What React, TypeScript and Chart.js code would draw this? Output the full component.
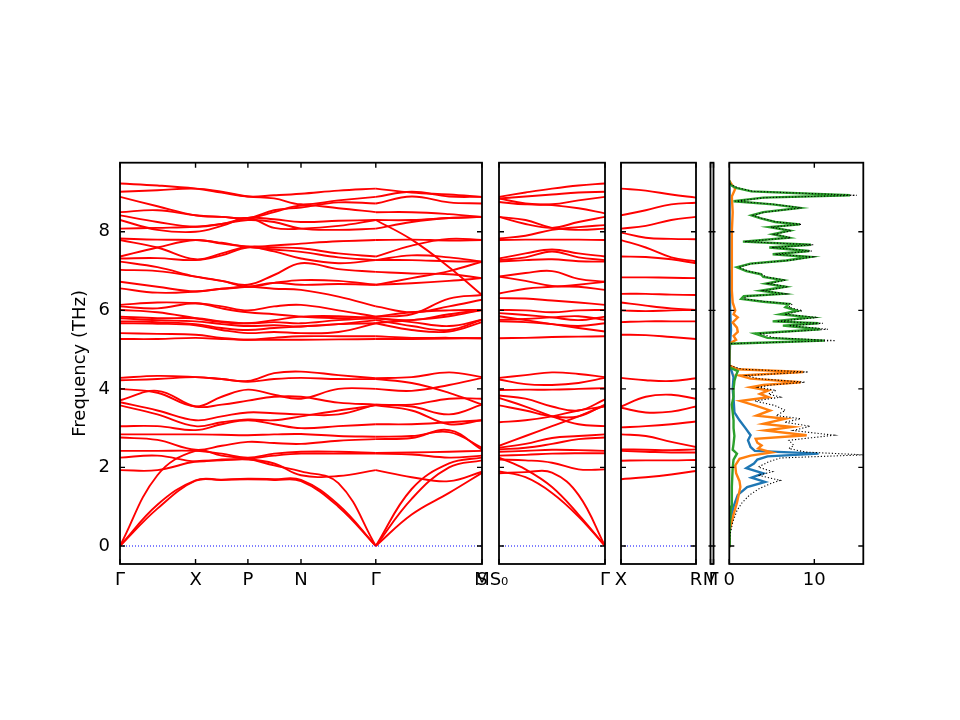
import { useEffect, useRef } from "react";
import Chart from "chart.js/auto";

Chart.defaults.font.family = "'DejaVu Sans', sans-serif";
Chart.defaults.font.size = 18;
Chart.defaults.color = "#000";

const Y_MIN = -0.46;
const Y_MAX = 9.76;
const AREA_TOP = 162.7;
const AREA_BOTTOM = 564;
const X_AXIS_H = 34;
const Y_AXIS_W = 54.8;
const TICK = 5;

const freqTicks = [0, 2, 4, 6, 8];

// panel 1: Γ-X-P-N-Γ-M, the line restarts at the second Γ
const path1Ticks = [0, 1.01, 1.71, 2.42, 3.42, 4.84, 4.84];
const path1Labels = ["Γ", "X", "P", "N", "Γ", "M", "S"];
const path1Knots = [0, 0.5, 1.01, 1.36, 1.71, 2.06, 2.42, 2.92, 3.42, 3.9, 4.4, 4.84];
const path1Breaks = [8];
const path1Bands = [
  [0, 0.95, 1.66, 1.68, 1.7, 1.68, 1.65, 1.0, 0, 0.8, 1.35, 1.86],
  [0, 1.05, 1.67, 1.69, 1.71, 1.7, 1.68, 1.05, 0, 1.2, 2.0, 2.18],
  [0, 1.8, 2.42, 2.3, 2.22, 2.05, 1.9, 1.6, 0, 1.45, 2.1, 2.25],
  [1.93, 1.93, 2.15, 2.18, 2.2, 2.1, 1.8, 1.78, 1.93, 1.75, 1.65, 1.89],
  [2.25, 2.3, 2.15, 2.2, 2.22, 2.3, 2.35, 2.35, 2.35, 2.33, 2.25, 2.3],
  [2.42, 2.42, 2.42, 2.35, 2.25, 2.35, 2.4, 2.4, 2.37, 2.38, 2.4, 2.42],
  [2.76, 2.7, 2.45, 2.55, 2.65, 2.62, 2.6, 2.68, 2.72, 2.75, 2.95, 2.45],
  [2.84, 2.84, 2.84, 2.83, 2.82, 2.84, 2.85, 2.8, 2.78, 2.8, 2.9, 2.5],
  [3.05, 3.05, 2.95, 3.1, 3.2, 3.1, 3.0, 3.05, 3.1, 3.1, 3.15, 3.2],
  [3.58, 3.35, 3.05, 3.15, 3.22, 3.2, 3.3, 3.45, 3.58, 3.45, 3.1, 3.2],
  [3.66, 3.45, 3.2, 3.3, 3.4, 3.38, 3.35, 3.35, 3.6, 3.55, 3.35, 3.6],
  [3.71, 3.95, 3.55, 3.6, 3.7, 3.8, 3.8, 3.65, 3.6, 3.6, 3.75, 3.75],
  [4.0, 3.9, 3.55, 3.8, 3.98, 3.85, 3.75, 4.0, 4.0, 3.95, 4.1, 4.28],
  [4.22, 4.25, 4.3, 4.25, 4.18, 4.25, 4.28, 4.25, 4.25, 4.15, 3.9, 3.6],
  [4.28, 4.33, 4.3, 4.25, 4.2, 4.4, 4.44, 4.35, 4.27, 4.3, 4.42, 4.3],
  [9.23, 9.18, 9.1, 9.0, 8.9, 8.93, 8.97, 9.05, 9.1, 9.0, 8.95, 8.89],
  [9.02, 9.06, 9.1, 9.02, 8.9, 8.85, 8.7, 8.8, 8.89, 9.02, 8.9, 8.89],
  [8.89, 8.65, 8.42, 8.38, 8.35, 8.5, 8.67, 8.6, 8.5, 8.5, 8.45, 8.38],
  [8.5, 8.55, 8.42, 8.38, 8.35, 8.55, 8.62, 8.75, 8.72, 8.9, 8.75, 8.72],
  [8.42, 8.25, 8.13, 8.2, 8.35, 8.32, 8.25, 8.28, 8.3, 7.8, 7.1, 6.39],
  [8.3, 8.05, 8.0, 8.15, 8.35, 8.1, 8.08, 8.15, 8.3, 8.3, 8.35, 8.38],
  [8.08, 8.1, 8.13, 8.2, 8.3, 8.25, 8.08, 8.05, 8.08, 8.25, 8.35, 8.38],
  [7.83, 7.8, 7.79, 7.72, 7.62, 7.65, 7.7, 7.76, 7.79, 7.8, 7.78, 7.79],
  [7.79, 7.6, 7.3, 7.45, 7.62, 7.6, 7.58, 7.45, 7.37, 7.65, 7.82, 7.79],
  [7.37, 7.6, 7.79, 7.7, 7.62, 7.55, 7.49, 7.35, 7.28, 7.4, 7.35, 7.24],
  [7.32, 7.33, 7.28, 7.4, 7.6, 7.5, 7.32, 7.2, 7.28, 7.28, 7.25, 7.24],
  [7.24, 7.1, 6.86, 6.75, 6.65, 6.9, 7.2, 7.05, 6.98, 6.94, 6.92, 6.82],
  [7.03, 7.0, 6.86, 6.75, 6.6, 6.7, 6.77, 6.75, 6.65, 6.82, 7.0, 7.24],
  [6.73, 6.6, 6.48, 6.55, 6.6, 6.7, 6.65, 6.67, 6.65, 6.69, 6.75, 6.82],
  [6.56, 6.45, 6.48, 6.55, 6.6, 6.55, 6.52, 6.35, 6.1, 5.95, 6.1, 6.27],
  [6.14, 6.2, 6.18, 6.1, 6.0, 6.1, 6.14, 6.0, 5.84, 5.9, 6.3, 6.39],
  [6.1, 6.05, 6.18, 6.05, 5.95, 5.9, 5.84, 5.8, 5.84, 5.95, 6.0, 6.01],
  [6.01, 5.95, 5.8, 5.7, 5.67, 5.75, 5.84, 5.85, 5.8, 5.75, 5.9, 6.01],
  [5.84, 5.8, 5.8, 5.72, 5.67, 5.7, 5.67, 5.75, 5.8, 5.7, 5.6, 5.76],
  [5.8, 5.75, 5.72, 5.65, 5.6, 5.62, 5.59, 5.65, 5.75, 5.6, 5.5, 5.76],
  [5.72, 5.7, 5.65, 5.55, 5.5, 5.55, 5.59, 5.65, 5.67, 5.5, 5.46, 5.7],
  [5.67, 5.66, 5.62, 5.5, 5.42, 5.45, 5.42, 5.45, 5.67, 5.75, 5.85, 6.01],
  [5.42, 5.4, 5.38, 5.3, 5.25, 5.3, 5.34, 5.34, 5.34, 5.3, 5.3, 5.29],
  [5.27, 5.27, 5.3, 5.27, 5.25, 5.25, 5.25, 5.26, 5.27, 5.27, 5.28, 5.29],
];

// panel 2: S0-Γ
const path2Ticks = [0, 1.4];
const path2Labels = ["S₀", "Γ"];
const path2Knots = [0, 0.35, 0.7, 1.05, 1.4];
const path2Bands = [
  [1.9, 1.75, 1.35, 0.75, 0],
  [1.85, 1.88, 1.87, 1.3, 0],
  [2.25, 1.95, 1.5, 0.8, 0],
  [2.2, 2.18, 2.12, 1.95, 1.95],
  [2.3, 2.32, 2.35, 2.36, 2.36],
  [2.4, 2.42, 2.45, 2.44, 2.42],
  [2.46, 2.5, 2.6, 2.72, 2.76],
  [2.5, 2.6, 2.75, 2.8, 2.84],
  [2.55, 2.8, 3.05, 3.3, 3.58],
  [3.15, 3.2, 3.3, 3.45, 3.55],
  [3.58, 3.45, 3.3, 3.3, 3.6],
  [3.77, 3.55, 3.3, 3.1, 3.05],
  [3.83, 3.75, 3.55, 3.45, 3.73],
  [3.97, 3.98, 3.98, 4.0, 4.02],
  [4.24, 4.12, 4.1, 4.15, 4.28],
  [4.28, 4.35, 4.42, 4.38, 4.3],
  [5.29, 5.3, 5.32, 5.33, 5.34],
  [5.85, 5.75, 5.65, 5.55, 5.46],
  [5.72, 5.7, 5.65, 5.6, 5.67],
  [5.76, 5.78, 5.82, 5.85, 5.76],
  [5.93, 5.88, 5.82, 5.75, 5.84],
  [6.01, 6.0, 5.95, 6.0, 6.01],
  [6.31, 6.3, 6.25, 6.2, 6.14],
  [6.43, 6.55, 6.6, 6.65, 6.73],
  [6.86, 6.75, 6.62, 6.6, 6.52],
  [6.86, 6.95, 7.0, 6.8, 6.73],
  [7.24, 7.28, 7.3, 7.25, 7.24],
  [7.28, 7.35, 7.5, 7.35, 7.28],
  [7.32, 7.45, 7.55, 7.45, 7.37],
  [7.79, 7.8, 7.8, 7.8, 7.79],
  [7.83, 7.9, 8.05, 8.12, 8.17],
  [8.38, 8.2, 8.1, 8.25, 8.38],
  [8.38, 8.3, 8.1, 8.05, 8.08],
  [8.85, 8.72, 8.68, 8.6, 8.47],
  [8.76, 8.7, 8.7, 8.8, 8.89],
  [8.85, 8.9, 8.95, 9.0, 9.02],
  [8.89, 9.0, 9.1, 9.18, 9.23],
];

// panel 3: X-R
const path3Ticks = [0, 1.0];
const path3Labels = ["X", "R"];
const path3Knots = [0, 0.33, 0.67, 1.0];
const path3Bands = [
  [1.7, 1.75, 1.82, 1.91],
  [2.17, 2.18, 2.18, 2.19],
  [2.42, 2.4, 2.38, 2.38],
  [2.46, 2.45, 2.44, 2.46],
  [2.84, 2.8, 2.65, 2.52],
  [3.02, 3.05, 3.1, 3.17],
  [3.52, 3.4, 3.42, 3.55],
  [3.55, 3.8, 3.85, 3.75],
  [4.28, 4.22, 4.2, 4.27],
  [5.38, 5.37, 5.32, 5.27],
  [5.7, 5.72, 5.72, 5.72],
  [6.0, 5.98, 6.0, 6.01],
  [6.2, 6.12, 6.05, 6.01],
  [6.42, 6.42, 6.4, 6.39],
  [6.84, 6.84, 6.83, 6.82],
  [7.37, 7.36, 7.3, 7.2],
  [7.79, 7.6, 7.35, 7.25],
  [7.98, 7.85, 7.82, 7.81],
  [8.08, 8.15, 8.3, 8.38],
  [8.42, 8.55, 8.7, 8.74],
  [9.1, 9.05, 8.95, 8.87],
];

// panel 4: the short M-Γ piece
const path4Ticks = [0, 1];
const path4Labels = ["M", "Γ"];

// DOS panel
const dosTicks = [0, 10];
const dosMax = 15.76;

const totalFreq = [
  0, 0.3, 0.6, 0.9, 1.1, 1.3, 1.47, 1.6, 1.67, 1.8, 1.89, 2.01, 2.14, 2.24, 2.32, 2.39, 2.48, 2.56,
  2.69, 2.82, 2.94, 3.05, 3.15, 3.24, 3.32, 3.45, 3.58, 3.69, 3.79, 3.87, 3.96, 4.04, 4.1, 4.17,
  4.26, 4.34, 4.43, 4.5, 4.6, 5.15, 5.23, 5.3, 5.41, 5.52, 5.61, 5.67, 5.72, 5.82, 5.9, 5.99, 6.08,
  6.16, 6.22, 6.29, 6.36, 6.42, 6.5, 6.6, 6.68, 6.77, 6.85, 6.92, 7.0, 7.1, 7.19, 7.27, 7.36, 7.43,
  7.51, 7.6, 7.67, 7.75, 7.85, 7.94, 8.03, 8.12, 8.19, 8.25, 8.34, 8.42, 8.5, 8.61, 8.7, 8.78, 8.87,
  8.93, 9.03, 9.12, 9.2, 9.3,
];
const totalDos = [
  0, 0.1, 0.4, 0.9, 1.5, 2.4, 3.6, 5.0, 6.0, 3.4, 5.1, 3.4, 4.6, 6.0, 15.8, 9.0, 7.0, 7.6, 7.0,
  12.3, 7.5, 9.5, 6.5, 8.4, 5.5, 6.6, 5.3, 3.0, 6.0, 4.6, 5.5, 3.4, 5.0, 8.9, 3.4, 2.0, 9.3, 1.5, 0,
  0, 12.5, 5.4, 3.5, 11.6, 7.0, 11.0, 5.6, 10.4, 6.5, 8.6, 7.0, 7.4, 4.4, 1.7, 2.0, 6.6, 4.0, 6.9,
  4.6, 6.6, 4.3, 3.9, 2.2, 1.1, 2.7, 7.0, 9.8, 5.4, 9.7, 5.0, 9.9, 1.8, 7.2, 5.3, 7.3, 4.9, 8.5,
  5.6, 3.9, 2.8, 4.2, 8.5, 5.3, 0.7, 4.2, 15.0, 2.8, 1.0, 0.2, 0,
];

const greenFreq = [
  0, 0.5, 1.0, 1.5, 2.0, 2.2, 2.35, 2.45, 2.6, 2.8, 3.0, 3.2, 3.4, 3.6, 3.8, 4.0, 4.2, 4.35, 4.45,
  4.55, 5.15, 5.23, 5.3, 5.41, 5.52, 5.61, 5.67, 5.72, 5.82, 5.9, 5.99, 6.08, 6.16, 6.22, 6.29,
  6.36, 6.42, 6.5, 6.6, 6.68, 6.77, 6.85, 6.92, 7.0, 7.1, 7.19, 7.27, 7.36, 7.43, 7.51, 7.6, 7.67,
  7.75, 7.85, 7.94, 8.03, 8.12, 8.19, 8.25, 8.34, 8.42, 8.5, 8.61, 8.7, 8.78, 8.87, 8.93, 9.03,
  9.12, 9.2, 9.3,
];
const greenDos = [
  0, 0.05, 0.2, 0.3, 0.4, 0.5, 0.9, 0.4, 0.5, 0.6, 0.5, 0.5, 0.4, 0.3, 0.5, 0.5, 0.6, 0.8, 1.0, 0,
  0, 11.2, 4.5, 3.0, 10.7, 6.3, 10.5, 5.1, 9.6, 6.0, 8.0, 6.6, 7.0, 4.0, 1.4, 1.7, 6.3, 3.7, 6.6,
  4.3, 6.3, 4.0, 3.7, 2.0, 0.9, 2.5, 6.7, 9.5, 5.1, 9.4, 4.7, 9.6, 1.6, 7.0, 5.1, 7.1, 4.7, 8.3,
  5.4, 3.7, 2.6, 4.0, 8.3, 5.1, 0.5, 4.0, 14.2, 2.6, 0.8, 0.1, 0,
];

const orangeFreq = [
  0, 0.4, 0.8, 1.1, 1.3, 1.5, 1.65, 1.85, 2.05, 2.22, 2.3, 2.38, 2.48, 2.56, 2.63, 2.73, 2.82,
  2.94, 3.03, 3.11, 3.24, 3.32, 3.45, 3.58, 3.69, 3.79, 3.87, 3.96, 4.04, 4.1, 4.17, 4.26, 4.34,
  4.43, 4.5, 4.6, 5.15, 5.25, 5.35, 5.45, 5.56, 5.69, 5.82, 5.9, 6.0, 6.2, 6.5, 7.0, 7.5, 8.0, 8.5,
  8.9, 9.1, 9.2, 9.3,
];
const orangeDos = [
  0, 0.05, 0.5, 0.9, 1.1, 1.3, 1.2, 0.8, 0.7, 1.2, 2.5, 5.0, 3.4, 3.8, 3.3, 3.1, 9.1, 4.2, 7.4,
  4.0, 6.6, 3.2, 4.8, 3.0, 1.3, 4.6, 3.6, 4.6, 2.5, 4.0, 8.4, 2.5, 1.2, 8.7, 1.0, 0, 0, 0.8, 0.5,
  1.0, 0.9, 0.4, 1.0, 0.5, 0.7, 0.4, 0.3, 0.3, 0.3, 0.3, 0.4, 0.3, 0.7, 0.3, 0,
];

const blueFreq = [
  0, 0.6, 1.0, 1.3, 1.5, 1.63, 1.74, 1.85, 1.98, 2.1, 2.2, 2.28, 2.35, 2.42, 2.52, 2.69, 2.82, 3.0,
  3.2, 3.4, 3.75, 4.0, 4.3, 4.5, 4.6, 5.2, 5.5, 6.0, 7.0, 8.0, 9.0, 9.3,
];
const blueDos = [
  0, 0.1, 0.5, 1.0, 2.1, 4.2, 2.6, 4.0, 2.0, 2.9, 3.3, 4.5, 10.5, 3.0, 2.5, 2.2, 2.5, 1.9, 1.2,
  0.6, 0.5, 0.4, 0.5, 0.2, 0, 0.1, 0.2, 0.1, 0.05, 0.05, 0.05, 0,
];

const bandSets = (knots: number[], bands: number[][], breaks: number[] = []) => {
  const edges = [0, ...breaks, knots.length - 1];
  const sets: any[] = [
    {
      data: [
        { x: knots[0], y: 0 },
        { x: knots[knots.length - 1], y: 0 },
      ],
      borderColor: "#0000ff",
      borderWidth: 1.1,
      borderDash: [1, 2],
      pointRadius: 0,
      tension: 0,
    },
  ];
  for (const b of bands) {
    for (let s = 0; s < edges.length - 1; s++) {
      const idx = knots.map((_, i) => i).filter((i) => i >= edges[s] && i <= edges[s + 1]);
      sets.push({
        data: idx.map((i) => ({ x: knots[i], y: b[i] })),
        borderColor: "#ff0000",
        borderWidth: 1.9,
        pointRadius: 0,
        tension: 0.4,
      });
    }
  }
  return sets;
};

const dosLine = (freq: number[], dos: number[], color: string, dotted = false) => ({
  data: freq.map((f, i) => ({ x: dos[i], y: f })),
  borderColor: color,
  borderWidth: dotted ? 1.1 : 2.4,
  borderDash: dotted ? [1.2, 2] : [],
  pointRadius: 0,
  tension: 0,
});

// inward tick marks and the frame, as matplotlib draws them
const frameTicks = (marks: number[]) => ({
  id: "frameTicks",
  afterDraw(chart: Chart) {
    const { ctx, chartArea: a, scales } = chart;
    ctx.save();
    ctx.strokeStyle = "#000";
    ctx.lineWidth = 1.4;
    ctx.beginPath();
    for (const v of freqTicks) {
      const y = scales.y.getPixelForValue(v);
      ctx.moveTo(a.left, y);
      ctx.lineTo(a.left + TICK, y);
      ctx.moveTo(a.right, y);
      ctx.lineTo(a.right - TICK, y);
    }
    for (const v of marks) {
      const x = scales.x.getPixelForValue(v);
      ctx.moveTo(x, a.top);
      ctx.lineTo(x, a.top + TICK);
      ctx.moveTo(x, a.bottom);
      ctx.lineTo(x, a.bottom - TICK);
    }
    ctx.stroke();
    ctx.lineWidth = 1.8;
    ctx.strokeRect(a.left, a.top, a.right - a.left, a.bottom - a.top);
    ctx.restore();
  },
});

interface PanelProps {
  areaLeft: number;
  areaRight: number;
  xMin: number;
  xMax: number;
  tickPos: number[];
  tickLabels: string[];
  datasets: any[];
  showYAxis?: boolean;
}

const Panel = ({ areaLeft, areaRight, xMin, xMax, tickPos, tickLabels, datasets, showYAxis = false }: PanelProps) => {
  const canvasRef = useRef<HTMLCanvasElement | null>(null);

  useEffect(() => {
    if (!canvasRef.current) return;
    const chart = new Chart(canvasRef.current, {
      type: "line",
      data: { datasets },
      options: {
        responsive: false,
        animation: false,
        events: [],
        layout: {
          autoPadding: false,
          padding: {
            left: showYAxis ? areaLeft - Y_AXIS_W : areaLeft,
            right: 960 - areaRight,
            top: AREA_TOP,
            bottom: 720 - AREA_BOTTOM - X_AXIS_H,
          },
        },
        plugins: { legend: { display: false }, tooltip: { enabled: false } },
        scales: {
          x: {
            type: "linear",
            min: xMin,
            max: xMax,
            grid: { display: false, drawTicks: false },
            border: { display: false },
            afterBuildTicks: (s: any) => {
              s.ticks = tickPos.map((value) => ({ value }));
            },
            afterFit: (s: any) => {
              s.height = X_AXIS_H;
              s.paddingLeft = 0;
              s.paddingRight = 0;
            },
            ticks: {
              autoSkip: false,
              maxRotation: 0,
              minRotation: 0,
              padding: 5.5,
              color: "#000",
              callback: (_v: any, i: number) => tickLabels[i],
            },
          },
          y: {
            type: "linear",
            min: Y_MIN,
            max: Y_MAX,
            display: showYAxis,
            grid: { display: false, drawTicks: false },
            border: { display: false },
            afterBuildTicks: (s: any) => {
              s.ticks = freqTicks.map((value) => ({ value }));
            },
            afterFit: (s: any) => {
              s.width = showYAxis ? Y_AXIS_W : 0;
              s.paddingTop = 0;
              s.paddingBottom = 0;
            },
            title: { display: true, text: "Frequency (THz)", color: "#000" },
            ticks: { padding: 10, color: "#000", callback: (v: any) => String(v) },
          },
        },
      },
      plugins: [frameTicks(tickPos)],
    });
    return () => chart.destroy();
  }, []);

  return (
    <canvas
      ref={canvasRef}
      width={960}
      height={720}
      style={{ position: "absolute", left: 0, top: 0, width: 960, height: 720 }}
    />
  );
};

export default function App() {
  return (
    <div style={{ position: "absolute", left: 0, top: 0, width: 960, height: 720, background: "#fff" }}>
      <Panel
        areaLeft={120}
        areaRight={482}
        xMin={path1Knots[0]}
        xMax={path1Knots[path1Knots.length - 1]}
        tickPos={path1Ticks}
        tickLabels={path1Labels}
        datasets={bandSets(path1Knots, path1Bands, path1Breaks)}
        showYAxis
      />
      <Panel
        areaLeft={499}
        areaRight={605}
        xMin={path2Knots[0]}
        xMax={path2Knots[path2Knots.length - 1]}
        tickPos={path2Ticks}
        tickLabels={path2Labels}
        datasets={bandSets(path2Knots, path2Bands)}
      />
      <Panel
        areaLeft={621}
        areaRight={696}
        xMin={path3Knots[0]}
        xMax={path3Knots[path3Knots.length - 1]}
        tickPos={path3Ticks}
        tickLabels={path3Labels}
        datasets={bandSets(path3Knots, path3Bands)}
      />
      <Panel
        areaLeft={710.5}
        areaRight={713.5}
        xMin={0}
        xMax={1}
        tickPos={path4Ticks}
        tickLabels={path4Labels}
        datasets={bandSets([0, 1], [])}
      />
      <Panel
        areaLeft={729.3}
        areaRight={863.3}
        xMin={0}
        xMax={dosMax}
        tickPos={dosTicks}
        tickLabels={dosTicks.map(String)}
        datasets={[
          dosLine(totalFreq, totalDos, "#000", true),
          dosLine(greenFreq, greenDos, "#2ca02c"),
          dosLine(orangeFreq, orangeDos, "#ff7f0e"),
          dosLine(blueFreq, blueDos, "#1f77b4"),
        ]}
      />
    </div>
  );
}
